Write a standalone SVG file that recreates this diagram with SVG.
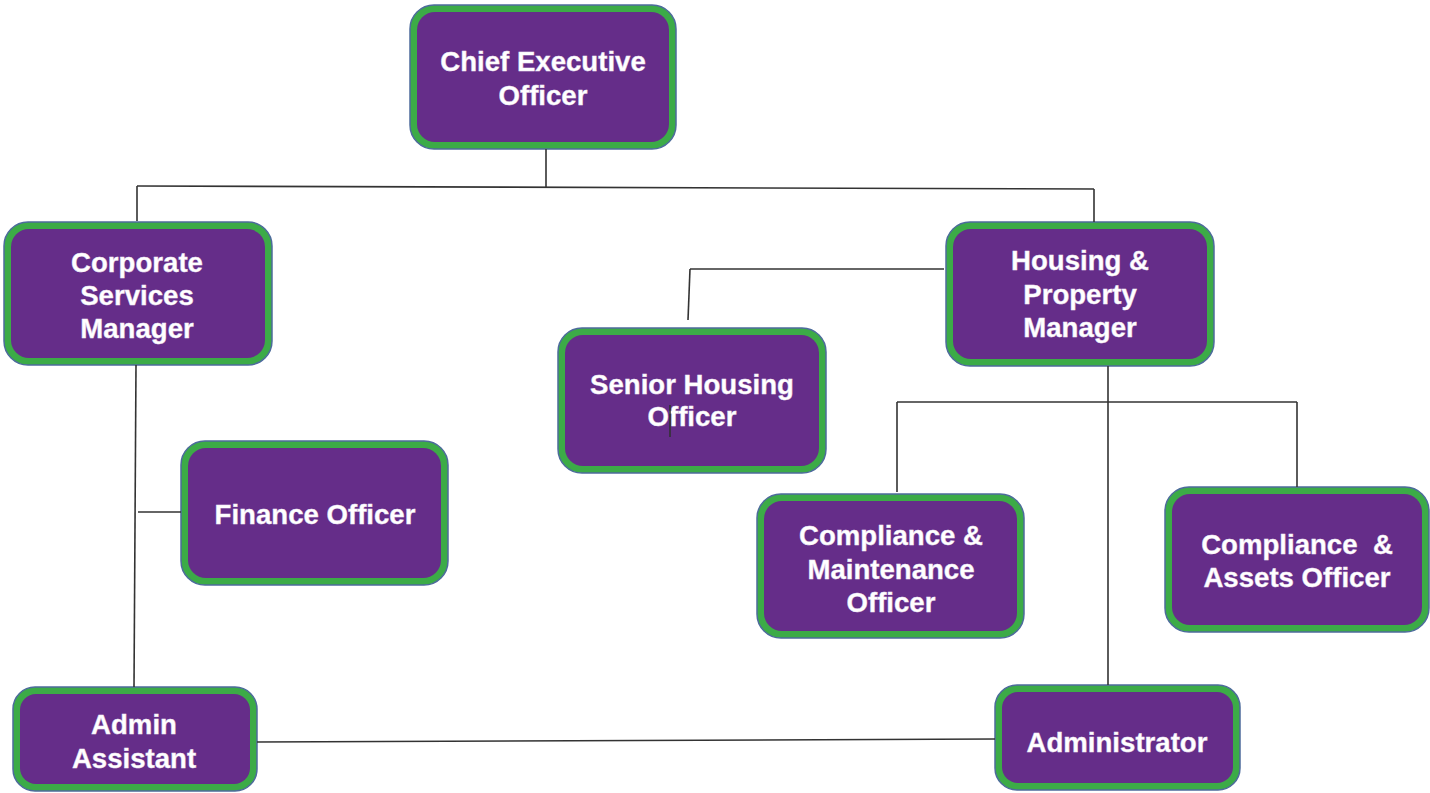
<svg xmlns="http://www.w3.org/2000/svg" width="1430" height="793" viewBox="0 0 1430 793">
  <style>
    .frame { fill: #3cab47; stroke: #4d6b9c; stroke-width: 1.5; }
    .body { fill: #652d89; }
    .label { font-family: "Liberation Sans", Arial, sans-serif; font-weight: bold; font-size: 27.6px; fill: #ffffff; text-anchor: middle; white-space: pre; stroke: #efe6f5; stroke-width: 0.4; }
    .wire { stroke: #333333; stroke-width: 1.6; fill: none; }
  </style>
  <rect width="1430" height="793" fill="#ffffff"/>

  <g id="ceo">
    <rect class="frame" x="410" y="5" width="266" height="144" rx="24"/>
    <rect class="body" x="417" y="12" width="252" height="130" rx="18"/>
    <text class="label" x="543" y="71">Chief Executive</text>
    <text class="label" x="543" y="105">Officer</text>
  </g>

  <g id="corporate-services">
    <rect class="frame" x="4" y="222" width="268" height="143" rx="24"/>
    <rect class="body" x="11" y="229" width="254" height="129" rx="18"/>
    <text class="label" x="137" y="272">Corporate</text>
    <text class="label" x="137" y="305">Services</text>
    <text class="label" x="137" y="338">Manager</text>
  </g>

  <g id="finance-officer">
    <rect class="frame" x="181" y="441" width="267" height="144" rx="24"/>
    <rect class="body" x="188" y="448" width="253" height="130" rx="18"/>
    <text class="label" x="315" y="524">Finance Officer</text>
  </g>

  <g id="senior-housing">
    <rect class="frame" x="558" y="328" width="268" height="145" rx="24"/>
    <rect class="body" x="565" y="335" width="254" height="131" rx="18"/>
    <text class="label" x="692" y="394">Senior Housing</text>
    <text class="label" x="692" y="426">Officer</text>
  </g>

  <g id="housing-property">
    <rect class="frame" x="946" y="222" width="268" height="144" rx="24"/>
    <rect class="body" x="953" y="229" width="254" height="130" rx="18"/>
    <text class="label" x="1080" y="270">Housing &amp;</text>
    <text class="label" x="1080" y="304">Property</text>
    <text class="label" x="1080" y="337">Manager</text>
  </g>

  <g id="compliance-maintenance">
    <rect class="frame" x="757" y="494" width="267" height="144" rx="24"/>
    <rect class="body" x="764" y="501" width="253" height="130" rx="18"/>
    <text class="label" x="891" y="545">Compliance &amp;</text>
    <text class="label" x="891" y="579">Maintenance</text>
    <text class="label" x="891" y="612">Officer</text>
  </g>

  <g id="compliance-assets">
    <rect class="frame" x="1165" y="487" width="264" height="145" rx="24"/>
    <rect class="body" x="1172" y="494" width="250" height="131" rx="18"/>
    <text class="label" x="1297" y="554">Compliance  &amp;</text>
    <text class="label" x="1297" y="587">Assets Officer</text>
  </g>

  <g id="admin-assistant">
    <rect class="frame" x="13" y="687" width="244" height="104" rx="22"/>
    <rect class="body" x="20" y="694" width="230" height="90" rx="16"/>
    <text class="label" x="134" y="734">Admin</text>
    <text class="label" x="134" y="768">Assistant</text>
  </g>

  <g id="administrator">
    <rect class="frame" x="995" y="685" width="245" height="105" rx="22"/>
    <rect class="body" x="1002" y="692" width="231" height="91" rx="16"/>
    <text class="label" x="1117" y="752">Administrator</text>
  </g>

  <!-- reporting lines, drawn over the boxes so stray marks stay visible -->
  <g id="connectors">
    <path class="wire" d="M546 149 V187"/>
    <path class="wire" d="M137 186 L1094 189"/>
    <path class="wire" d="M137 186 V221"/>
    <path class="wire" d="M1094 189 V222"/>
    <path class="wire" d="M136 365 L134 687"/>
    <path class="wire" d="M138 512 H181"/>
    <path class="wire" d="M690 269 H944"/>
    <path class="wire" d="M690 269 L688 320"/>
    <path class="wire" d="M1108 366 V685"/>
    <path class="wire" d="M897 402 H1297"/>
    <path class="wire" d="M897 402 V492"/>
    <path class="wire" d="M1297 402 V487"/>
    <path class="wire" d="M257 742 L995 739"/>
    <path class="wire" d="M670 405 V437" stroke="#111111"/>
  </g>
</svg>
